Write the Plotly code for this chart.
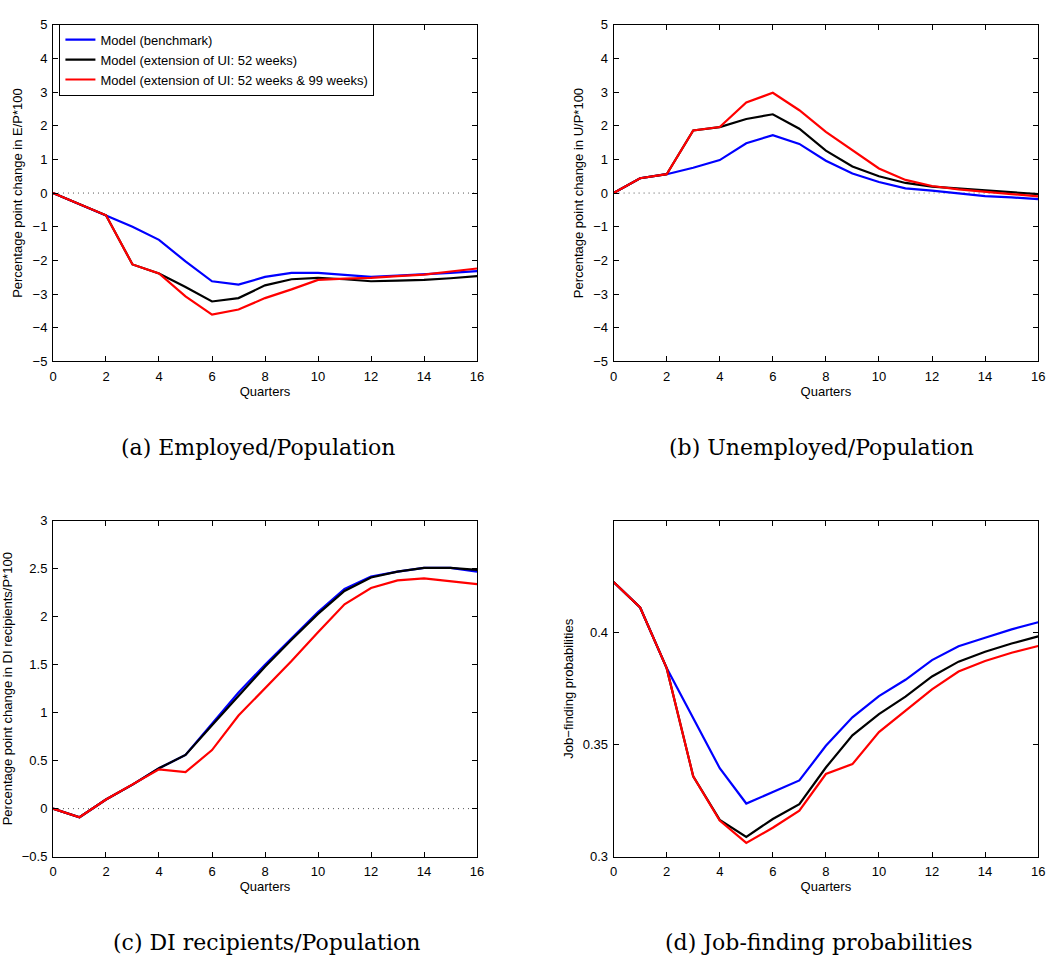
import plotly.graph_objects as go

quarters = list(range(17))
series_names = ["Model (benchmark)", "Model (extension of UI: 52 weeks)",
                "Model (extension of UI: 52 weeks & 99 weeks)"]
colors = ["#0000FF", "#000000", "#FF0000"]

# (a) Employed / Population
ep_bench = [0, -0.33, -0.66, -1.00, -1.39, -2.03, -2.62, -2.72, -2.49, -2.37, -2.37, -2.42, -2.49, -2.45, -2.42, -2.37, -2.32]
ep_ui52 = [0, -0.33, -0.66, -2.12, -2.39, -2.79, -3.22, -3.12, -2.74, -2.56, -2.52, -2.56, -2.62, -2.60, -2.58, -2.53, -2.47]
ep_ui99 = [0, -0.33, -0.66, -2.12, -2.39, -3.07, -3.61, -3.46, -3.12, -2.86, -2.58, -2.54, -2.52, -2.47, -2.42, -2.33, -2.24]

# (b) Unemployed / Population
up_bench = [0, 0.44, 0.56, 0.75, 0.98, 1.48, 1.72, 1.46, 0.96, 0.58, 0.33, 0.14, 0.07, 0.00, -0.09, -0.13, -0.18]
up_ui52 = [0, 0.44, 0.56, 1.86, 1.96, 2.20, 2.34, 1.91, 1.26, 0.79, 0.50, 0.30, 0.19, 0.14, 0.07, 0.03, -0.03]
up_ui99 = [0, 0.44, 0.56, 1.86, 1.96, 2.69, 2.98, 2.46, 1.82, 1.27, 0.73, 0.39, 0.21, 0.11, 0.03, -0.03, -0.10]

# (c) DI recipients / Population
di_bench = [0, -0.09, 0.095, 0.25, 0.42, 0.56, 0.885, 1.21, 1.50, 1.77, 2.05, 2.29, 2.42, 2.47, 2.51, 2.51, 2.47]
di_ui52 = [0, -0.09, 0.095, 0.25, 0.42, 0.56, 0.87, 1.18, 1.48, 1.76, 2.03, 2.27, 2.41, 2.47, 2.51, 2.51, 2.49]
di_ui99 = [0, -0.09, 0.095, 0.25, 0.41, 0.38, 0.61, 0.97, 1.25, 1.54, 1.84, 2.13, 2.30, 2.38, 2.40, 2.37, 2.34]

# (d) Job-finding probabilities
jf_bench = [0.4227, 0.4113, 0.3842, 0.3622, 0.3395, 0.3237, 0.3288, 0.3340, 0.3495, 0.3622, 0.3717, 0.3790, 0.3878, 0.3940, 0.3978, 0.4015, 0.4047]
jf_ui52 = [0.4227, 0.4113, 0.3842, 0.3359, 0.3164, 0.3088, 0.3168, 0.3234, 0.3398, 0.3542, 0.3637, 0.3715, 0.3805, 0.3871, 0.3915, 0.3952, 0.3984]
jf_ui99 = [0.4227, 0.4113, 0.3842, 0.3359, 0.3161, 0.3061, 0.3129, 0.3205, 0.3369, 0.3413, 0.3556, 0.3652, 0.3747, 0.3827, 0.3874, 0.3911, 0.3941]

x_ticks = [0, 2, 4, 6, 8, 10, 12, 14, 16]
captions = ["(a) Employed/Population", "(b) Unemployed/Population",
            "(c) DI recipients/Population", "(d) Job-finding probabilities"]
y_titles = ["Percentage point change in E/P*100", "Percentage point change in U/P*100",
            "Percentage point change in DI recipients/P*100", "Job\u2212finding probabilities"]

W, H = 1059, 964
def px_x(a, b):
    return [a / W, b / W]
def px_y(top, bot):
    return [1 - bot / H, 1 - top / H]

panels = [
    dict(data=[ep_bench, ep_ui52, ep_ui99], xd=px_x(49.5, 478), yd=px_y(18, 360),
         yr=[-5, 5], yt=list(range(-5, 6)), zero=True),
    dict(data=[up_bench, up_ui52, up_ui99], xd=px_x(616, 1045), yd=px_y(18, 360),
         yr=[-5, 5], yt=list(range(-5, 6)), zero=True),
    dict(data=[di_bench, di_ui52, di_ui99], xd=px_x(49.5, 478), yd=px_y(522, 863),
         yr=[-0.5, 3], yt=[-0.5, 0, 0.5, 1, 1.5, 2, 2.5, 3], zero=True),
    dict(data=[jf_bench, jf_ui52, jf_ui99], xd=px_x(616, 1045), yd=px_y(522, 863),
         yr=[0.3, 0.45], yt=[0.3, 0.35, 0.4], zero=False),
]

fig = go.Figure()
font_ax = dict(family="Liberation Sans, Arial, sans-serif", size=13, color="black")

for i, p in enumerate(panels):
    n = "" if i == 0 else str(i + 1)
    if p["zero"]:
        fig.add_shape(type="line", xref="x" + n, yref="y" + n, x0=0, x1=16, y0=0, y1=0,
                      line=dict(color="#555555", width=1, dash="1px,4px"), layer="below")
    for k in range(3):
        fig.add_trace(go.Scatter(
            x=quarters, y=p["data"][k], mode="lines", name=series_names[k],
            line=dict(color=colors[k], width=2.2),
            showlegend=(i == 0), xaxis="x" + n, yaxis="y" + n))
    axis_common = dict(showline=True, linecolor="black", linewidth=1, mirror="allticks",
                       ticks="inside", ticklen=5, tickcolor="black", tickwidth=1,
                       showgrid=False, zeroline=False, tickfont=font_ax)
    fig.update_layout(**{
        "xaxis" + n: dict(domain=p["xd"], range=[0, 16], tickvals=x_ticks,
                          anchor="y" + n, ticklabelstandoff=3,
                          title=dict(text="Quarters", font=font_ax, standoff=1),
                          **axis_common),
        "yaxis" + n: dict(domain=p["yd"], range=p["yr"], tickvals=p["yt"],
                          anchor="x" + n, ticklabelstandoff=2,
                          title=dict(text=y_titles[i], font=font_ax, standoff=6),
                          **axis_common),
    })

cap_pos = [(257, 447), (826, 447), (265, 950), (823, 950)]
for (cx, cy), txt in zip(cap_pos, captions):
    fig.add_annotation(text=txt, x=cx / W, y=1 - cy / H, xref="paper", yref="paper",
                       showarrow=False, xanchor="center", yanchor="middle",
                       font=dict(family="DejaVu Serif, serif", size=22, color="black"))

fig.update_layout(
    width=W, height=H, margin=dict(l=0, r=0, t=0, b=0),
    paper_bgcolor="white", plot_bgcolor="white",
    legend=dict(x=56 / W, y=1 - 17 / H, xanchor="left", yanchor="top",
                bgcolor="white", bordercolor="black", borderwidth=1,
                font=font_ax, tracegroupgap=0, itemwidth=30),
)

fig.write_html("out.html")
